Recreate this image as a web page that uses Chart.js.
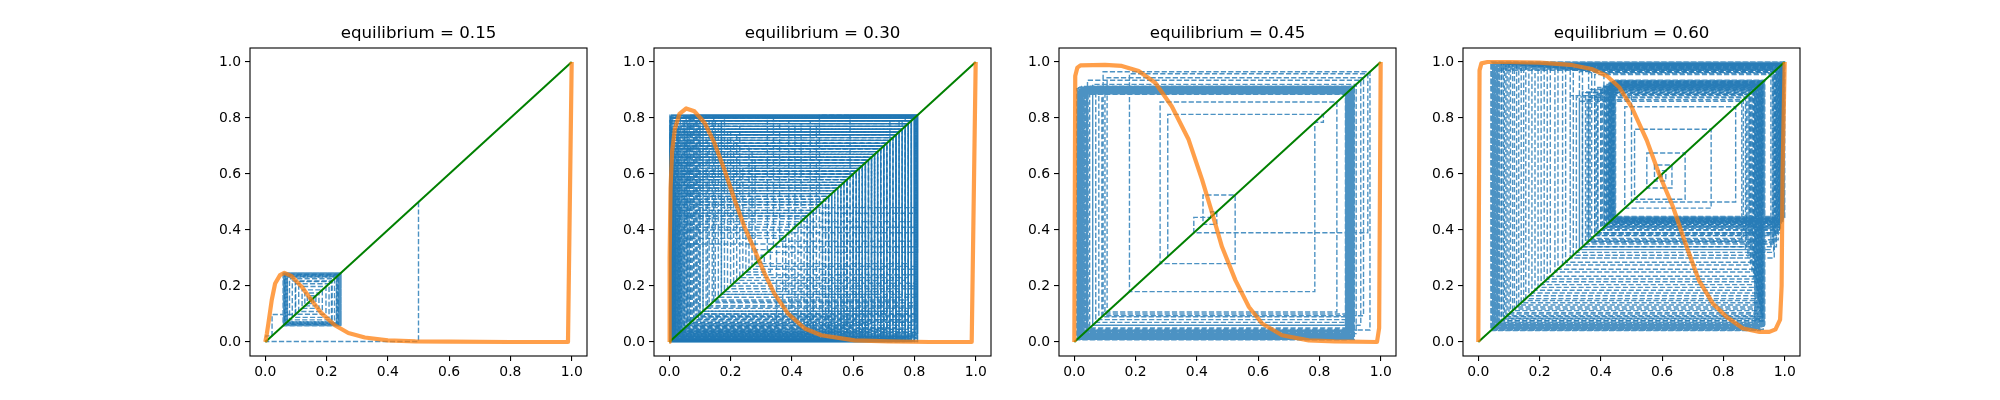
<!DOCTYPE html>
<html>
<head>
<meta charset="utf-8">
<script src="https://cdn.jsdelivr.net/npm/chart.js@4.4.1/dist/chart.umd.min.js"></script>
<style>
  html, body { margin: 0; background: #fff; }
  #wrap { position: relative; width: 2000px; height: 400px; overflow: hidden; }
  #wrap canvas { position: absolute; top: 0; }
</style>
</head>
<body>
<div id="wrap"></div>
<script>
const TICKS = [0, 0.2, 0.4, 0.6, 0.8, 1.0];
const TITLES = ['equilibrium = 0.15', 'equilibrium = 0.30', 'equilibrium = 0.45', 'equilibrium = 0.60'];
const DIAG = [0, 1];

const curve15X = [0, 0.005, 0.01, 0.021, 0.032, 0.048, 0.062, 0.086, 0.119, 0.151, 0.184, 0.227, 0.271, 0.325, 0.4, 0.49, 0.6, 0.8, 0.988, 1.0];
const curve15Y = [0, 0.03, 0.066, 0.15, 0.209, 0.239, 0.247, 0.235, 0.197, 0.149, 0.102, 0.06, 0.032, 0.016, 0.006, 0.002, 0.001, 0, 0, 1.0];
const iter15a = [0.5, 0.002, 0.022, 0.098, 0.216, 0.072, 0.232, 0.067, 0.238, 0.064, 0.242, 0.062, 0.244, 0.061, 0.246, 0.059, 0.247, 0.058, 0.246,
  0.06, 0.244, 0.062, 0.247, 0.059, 0.245, 0.061, 0.243, 0.064, 0.241, 0.066, 0.238, 0.068, 0.236, 0.063, 0.245, 0.06, 0.247];
const iter15b = [0.149, 0.152, 0.144, 0.158, 0.137, 0.165, 0.129, 0.175, 0.12, 0.186, 0.109, 0.198, 0.099, 0.208, 0.088, 0.218, 0.079, 0.226,
  0.072, 0.233, 0.067, 0.238, 0.063, 0.242];

// panel 2 (0.30)
const curve30X = [0, 0.001, 0.004, 0.009, 0.018, 0.033, 0.055, 0.082, 0.115, 0.147, 0.18, 0.213, 0.245, 0.278, 0.311, 0.343, 0.387, 0.442, 0.496, 0.605, 0.714, 0.85, 0.987, 1.0];
const curve30Y = [0, 0.3, 0.55, 0.68, 0.76, 0.815, 0.834, 0.824, 0.783, 0.711, 0.615, 0.508, 0.412, 0.329, 0.245, 0.173, 0.102, 0.048, 0.024, 0.006, 0.002, 0, 0, 1.0];
const iter30a = [0.30, 0.31, 0.285, 0.33, 0.25, 0.38, 0.18, 0.62, 0.004, 0.55, 0.006, 0.7, 0.003, 0.81, 0.12, 0.79, 0.02, 0.46, 0.008, 0.64,
  0.003, 0.8, 0.2, 0.76, 0.01, 0.52, 0.005, 0.68, 0.002, 0.805, 0.08, 0.81, 0.03, 0.42, 0.012, 0.58, 0.004, 0.74, 0.003, 0.8,
  0.26, 0.7, 0.006, 0.49, 0.009, 0.66, 0.002, 0.81, 0.16, 0.78, 0.015, 0.4, 0.02, 0.6, 0.005, 0.72, 0.003, 0.79, 0.05, 0.81,
  0.1, 0.8, 0.004, 0.56, 0.007, 0.63, 0.003, 0.77, 0.22, 0.74, 0.011, 0.45, 0.013, 0.69, 0.002, 0.8, 0.14, 0.805, 0.035, 0.5,
  0.006, 0.61, 0.004, 0.75, 0.002, 0.81, 0.06, 0.79, 0.018, 0.37, 0.04, 0.67, 0.003, 0.78, 0.28, 0.65, 0.008, 0.53, 0.005, 0.71,
  0.002, 0.8, 0.09, 0.81, 0.025, 0.44, 0.01, 0.59, 0.003, 0.76, 0.18, 0.8];
const iter30b = [0.003, 0.57, 0.005, 0.79, 0.11, 0.81, 0.015, 0.66, 0.002, 0.73, 0.004, 0.8, 0.24, 0.62, 0.009, 0.48, 0.03, 0.77, 0.003, 0.54,
  0.008, 0.81, 0.07, 0.8, 0.012, 0.64, 0.002, 0.69, 0.006, 0.78, 0.15, 0.81, 0.045, 0.41, 0.022, 0.71, 0.003, 0.6, 0.005, 0.805,
  0.19, 0.75, 0.007, 0.51, 0.016, 0.8, 0.002, 0.47, 0.028, 0.74, 0.004, 0.66, 0.009, 0.81, 0.13, 0.79, 0.038, 0.35, 0.055, 0.72,
  0.003, 0.58, 0.006, 0.8, 0.27, 0.68, 0.004, 0.43, 0.014, 0.76, 0.002, 0.63, 0.011, 0.81, 0.095, 0.8, 0.021, 0.52, 0.005, 0.7,
  0.003, 0.79, 0.23, 0.77, 0.008, 0.39, 0.065, 0.81, 0.002, 0.56, 0.01, 0.73, 0.004, 0.8, 0.17, 0.78, 0.019, 0.46, 0.017, 0.67,
  0.003, 0.805, 0.075, 0.81, 0.033, 0.59, 0.006, 0.75, 0.002, 0.64, 0.007, 0.8, 0.21, 0.72, 0.013, 0.5, 0.024, 0.79, 0.003, 0.61];
const iter30c = [0.004, 0.76, 0.045, 0.8, 0.003, 0.65, 0.06, 0.78, 0.012, 0.7, 0.002, 0.61, 0.085, 0.805, 0.025, 0.75, 0.005, 0.55, 0.035, 0.79,
  0.008, 0.68, 0.1, 0.81, 0.002, 0.74, 0.05, 0.77, 0.014, 0.63, 0.004, 0.8, 0.125, 0.72, 0.018, 0.57, 0.007, 0.79, 0.07, 0.81,
  0.003, 0.67, 0.028, 0.76, 0.011, 0.6, 0.055, 0.8, 0.002, 0.71, 0.04, 0.78, 0.006, 0.53, 0.09, 0.805, 0.02, 0.69, 0.003, 0.75,
  0.145, 0.8, 0.009, 0.62, 0.032, 0.77, 0.004, 0.66, 0.065, 0.81, 0.015, 0.73, 0.002, 0.58, 0.048, 0.79, 0.008, 0.7, 0.11, 0.8,
  0.005, 0.64, 0.026, 0.78, 0.003, 0.76, 0.08, 0.81, 0.012, 0.55, 0.042, 0.74, 0.002, 0.68, 0.17, 0.79, 0.006, 0.61, 0.058, 0.805,
  0.019, 0.72, 0.004, 0.8, 0.1, 0.77, 0.01, 0.65, 0.036, 0.8, 0.003, 0.7];
const iter30d = [0.002, 0.47, 0.004, 0.63, 0.003, 0.72, 0.81, 0.36, 0.79, 0.006, 0.52, 0.002, 0.69, 0.005, 0.77, 0.8, 0.43, 0.78, 0.003, 0.58,
  0.007, 0.66, 0.002, 0.74, 0.004, 0.49, 0.81, 0.32, 0.8, 0.005, 0.61, 0.003, 0.71, 0.008, 0.56, 0.002, 0.79, 0.81, 0.48, 0.77,
  0.004, 0.64, 0.006, 0.68, 0.003, 0.53, 0.002, 0.76, 0.8, 0.39, 0.79, 0.005, 0.6, 0.003, 0.73, 0.007, 0.45, 0.002, 0.67, 0.004,
  0.78, 0.81, 0.34, 0.8, 0.006, 0.57, 0.003, 0.7, 0.002, 0.62, 0.005, 0.75, 0.805, 0.46, 0.79, 0.004, 0.51, 0.002, 0.65, 0.006,
  0.72, 0.003, 0.59, 0.81, 0.41, 0.78, 0.002, 0.69, 0.005, 0.54, 0.003, 0.74, 0.004, 0.8];

// panel 3 (0.45)
const curve45X = [0, 0.003, 0.01, 0.02, 0.1, 0.155, 0.21, 0.264, 0.318, 0.373, 0.417, 0.45, 0.482, 0.526, 0.57, 0.613, 0.678, 0.765, 0.85, 0.988, 0.995, 1.0];
const curve45Y = [0, 0.95, 0.98, 0.988, 0.99, 0.986, 0.968, 0.926, 0.842, 0.723, 0.58, 0.46, 0.34, 0.22, 0.125, 0.066, 0.024, 0.006, 0.002, 0, 0.05, 1.0];
const iter45a = [0.305, 0.813, 0.785, 0.18, 0.958, 0.39, 0.445, 0.465, 0.42, 0.525, 0.28, 0.857, 0.107, 0.944, 0.094, 0.965, 0.043, 0.935, 0.06, 0.92,
  0.03, 0.9, 0.012, 0.887, 0.05, 0.912, 0.02, 0.895, 0.008, 0.905, 0.04, 0.886, 0.015, 0.91, 0.07, 0.898,
  0.025, 0.892, 0.01, 0.908, 0.035, 0.889, 0.018, 0.902, 0.045, 0.914, 0.009, 0.894, 0.028, 0.899, 0.06, 0.906,
  0.014, 0.885, 0.038, 0.897, 0.022, 0.911, 0.011, 0.891, 0.033, 0.903, 0.016, 0.888, 0.09, 0.909, 0.026, 0.896,
  0.01, 0.901, 0.042, 0.893, 0.019, 0.907, 0.013, 0.89, 0.031, 0.904, 0.024, 0.913, 0.08, 0.886, 0.017, 0.899,
  0.036, 0.91, 0.012, 0.894, 0.027, 0.902, 0.021, 0.888, 0.1, 0.905, 0.015, 0.897];

// panel 4 (0.60)
const curve60X = [0, 0.004, 0.01, 0.03, 0.1, 0.2, 0.3, 0.37, 0.42, 0.46, 0.5, 0.55, 0.59, 0.635, 0.68, 0.72, 0.766, 0.81, 0.864, 0.918, 0.95, 0.97, 0.985, 0.99, 0.993, 1.0];
const curve60Y = [0, 0.97, 0.995, 1.0, 1.0, 0.998, 0.99, 0.975, 0.95, 0.91, 0.84, 0.72, 0.6, 0.484, 0.34, 0.22, 0.137, 0.09, 0.048, 0.036, 0.036, 0.045, 0.08, 0.2, 0.6, 1.0];
const iter60a = [0.6, 0.59, 0.612, 0.575, 0.632, 0.55, 0.675, 0.51, 0.76, 0.478, 0.84, 0.5, 0.885,
  0.38, 0.955, 0.33, 0.86, 0.36, 0.962, 0.355, 0.872, 0.33, 0.966, 0.3, 0.88, 0.3, 0.97, 0.385, 0.888,
  0.275, 0.973, 0.34, 0.893, 0.25, 0.976, 0.4, 0.898, 0.225, 0.979, 0.365, 0.902, 0.205, 0.981, 0.412, 0.906,
  0.185, 0.983, 0.39, 0.909, 0.165, 0.985, 0.418, 0.912, 0.148, 0.986, 0.405, 0.914, 0.132, 0.988, 0.428, 0.917,
  0.118, 0.989, 0.42, 0.92, 0.105, 0.99, 0.432, 0.922, 0.094, 0.992, 0.426, 0.924, 0.085, 0.993, 0.436, 0.926,
  0.077, 0.994, 0.43, 0.928, 0.07, 0.995, 0.438, 0.93,
  0.068, 0.972, 0.426, 0.902, 0.052, 0.99, 0.44, 0.93, 0.045, 0.998, 0.447, 0.934, 0.06, 0.98, 0.432, 0.91,
  0.042, 1.0, 0.445, 0.926, 0.065, 0.975, 0.428, 0.905, 0.049, 0.994, 0.438, 0.932, 0.056, 0.985, 0.436, 0.915,
  0.043, 0.997, 0.448, 0.935, 0.063, 0.978, 0.43, 0.908, 0.047, 0.992, 0.442, 0.928, 0.058, 0.983, 0.434, 0.918,
  0.044, 0.999, 0.446, 0.922, 0.066, 0.97, 0.424, 0.903, 0.051, 0.988, 0.44, 0.925, 0.054, 0.986, 0.437, 0.92,
  0.041, 0.996, 0.444, 0.933, 0.061, 0.981, 0.431, 0.912, 0.048, 0.993, 0.441, 0.929, 0.057, 0.984, 0.435, 0.916];
const iter60b = [0.41, 0.96, 0.36, 0.865, 0.37, 0.964, 0.32, 0.875, 0.34, 0.968, 0.39, 0.884, 0.31, 0.971, 0.35, 0.89,
  0.285, 0.974, 0.41, 0.896, 0.26, 0.977, 0.38, 0.9, 0.235, 0.98, 0.415, 0.904, 0.215, 0.982, 0.4, 0.907,
  0.195, 0.984, 0.42, 0.91, 0.175, 0.985, 0.41, 0.913, 0.155, 0.987, 0.425, 0.916, 0.14, 0.988, 0.43, 0.918,
  0.125, 0.99, 0.435, 0.921, 0.112, 0.991, 0.428, 0.923, 0.1, 0.992, 0.44, 0.925, 0.09, 0.993, 0.433, 0.927,
  0.082, 0.994, 0.439, 0.929, 0.075, 0.995, 0.443, 0.931];

const PANELS = [
  { cx: curve15X, cy: curve15Y, runs: [iter15a, iter15b] },
  { cx: curve30X, cy: curve30Y, runs: [iter30a, iter30b, iter30c, iter30d] },
  { cx: curve45X, cy: curve45Y, runs: [iter45a] },
  { cx: curve60X, cy: curve60Y, runs: [iter60a, iter60b] }
];

const BLUE = 'rgba(31,119,180,0.8)';
const ORANGE = 'rgba(255,127,14,0.75)';
const GREEN = '#008000';
const FONT = 'DejaVu Sans';

function xy(xs, ys) {
  return xs.map((x, i) => ({ x, y: ys[i] }));
}

// staircase: (x0,x0) -> (x0,x1) -> (x1,x1) -> ...
function cobweb(it) {
  const pts = [{ x: it[0], y: it[0] }];
  for (let i = 0; i < it.length - 1; i++) {
    pts.push({ x: it[i], y: it[i + 1] }, { x: it[i + 1], y: it[i + 1] });
  }
  return pts;
}

// axes box + title centred over the plot area
const frame = {
  id: 'frame',
  afterDraw(chart, args, opts) {
    const a = chart.chartArea, ctx = chart.ctx;
    ctx.save();
    ctx.strokeStyle = '#000';
    ctx.lineWidth = 1.1;
    ctx.strokeRect(a.left, a.top, a.right - a.left, a.bottom - a.top);
    ctx.fillStyle = '#000';
    ctx.font = '16.67px "DejaVu Sans"';
    ctx.textAlign = 'center';
    ctx.textBaseline = 'alphabetic';
    ctx.fillText(opts.text, (a.left + a.right) / 2, a.top - 10);
    ctx.restore();
  }
};

function axis(pos) {
  return {
    type: 'linear', position: pos, min: -0.05, max: 1.05,
    afterBuildTicks: s => { s.ticks = TICKS.map(v => ({ value: v })); },
    afterFit: s => { if (pos === 'left') s.width = 70; else s.height = 25; },
    grid: { drawOnChartArea: false, drawTicks: true, tickLength: 5, color: '#000', lineWidth: 1.1 },
    border: { display: false },
    ticks: {
      color: '#000', autoSkip: false, maxRotation: 0,
      font: { family: FONT, size: 13.9 },
      padding: pos === 'left' ? 4 : 3,
      callback: v => Number(v).toFixed(1)
    }
  };
}

const wrap = document.getElementById('wrap');
const AX_W = 337, STEP = 404.35, LEFT0 = 250;

PANELS.forEach((p, i) => {
  const cv = document.createElement('canvas');
  cv.width = 427;
  cv.height = 400;
  cv.style.left = Math.round(LEFT0 + i * STEP - 70) + 'px';
  wrap.appendChild(cv);

  const line = { showLine: true, pointRadius: 0, fill: false, tension: 0 };
  const datasets = [
    Object.assign({ data: xy(p.cx, p.cy), borderColor: ORANGE, borderWidth: 4.2, borderJoinStyle: 'round', order: 0 }, line),
    Object.assign({ data: xy(DIAG, DIAG), borderColor: GREEN, borderWidth: 2, order: 1 }, line)
  ];
  p.runs.forEach((r, k) => {
    datasets.push(Object.assign({ data: cobweb(r), borderColor: BLUE, borderWidth: 1.4, borderDash: [5.2, 2.2], order: 2 + k }, line));
  });

  new Chart(cv, {
    type: 'scatter',
    data: { datasets },
    options: {
      responsive: false,
      animation: false,
      devicePixelRatio: 1,
      layout: { padding: { left: 0, right: 427 - 70 - AX_W, top: 48, bottom: 44 - 25 } },
      plugins: {
        legend: { display: false },
        tooltip: { enabled: false },
        title: { display: false },
        frame: { text: TITLES[i] }
      },
      scales: { x: axis('bottom'), y: axis('left') }
    },
    plugins: [frame]
  });
});
</script>
</body>
</html>
